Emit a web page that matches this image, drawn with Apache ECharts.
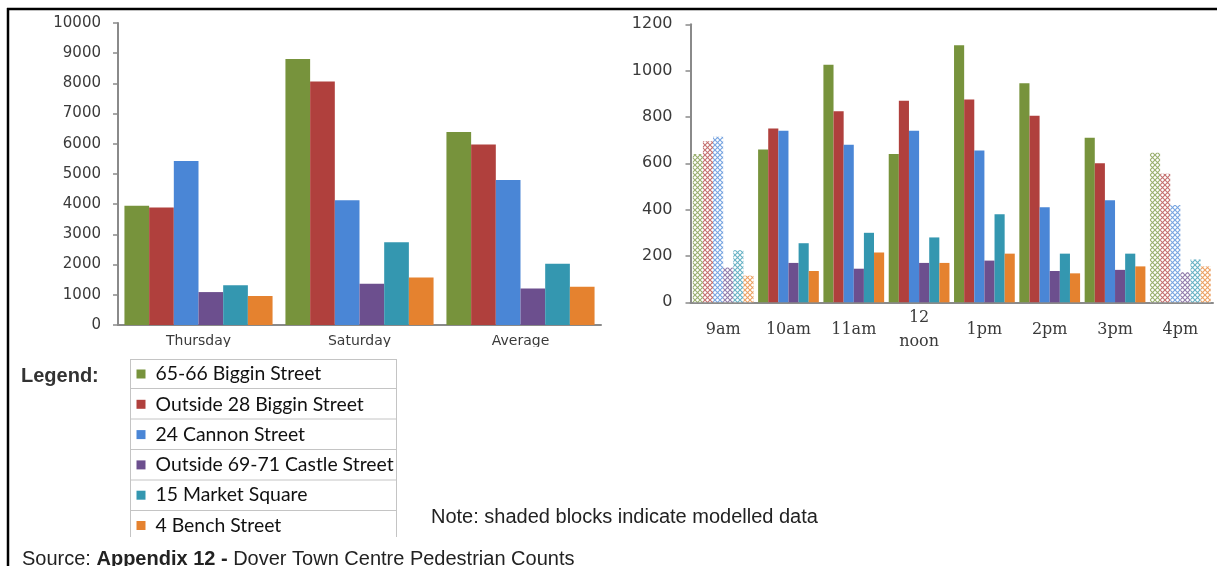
<!DOCTYPE html>
<html>
<head>
<meta charset="utf-8">
<script src="https://cdn.jsdelivr.net/npm/echarts@6/dist/echarts.min.js"></script>
<style>
  html, body { margin: 0; padding: 0; background: #fff; }
  #chart { width: 1217px; height: 566px; }
</style>
</head>
<body>
<div id="chart"></div>
<script>
// Dover town centre pedestrian counts by site

const locations = [
  '65-66 Biggin Street',
  'Outside 28 Biggin Street',
  '24 Cannon Street',
  'Outside 69-71 Castle Street',
  '15 Market Square',
  '4 Bench Street'
];
const siteColors = ['#77933C', '#B0403D', '#4A86D6', '#6C4F8E', '#3497B0', '#E5822F'];

// Daily totals
const dayCategories = ['Thursday', 'Saturday', 'Average'];
const dayBiggin6566 = [3950, 8810, 6390];
const dayBiggin28   = [3890, 8060, 5980];
const dayCannon     = [5430, 4130, 4800];
const dayCastle     = [1090, 1370, 1210];
const dayMarket     = [1320, 2740, 2030];
const dayBench      = [960, 1570, 1270];
const dayTicks = { min: 0, max: 10000, interval: 1000 };

// Hourly counts (9am and 4pm are modelled)
const hourCategories = ['9am', '10am', '11am', '12\nnoon', '1pm', '2pm', '3pm', '4pm'];
const hourBiggin6566 = [640, 660, 1025, 640, 1110, 945, 710, 645];
const hourBiggin28   = [695, 750, 825, 870, 875, 805, 600, 555];
const hourCannon     = [715, 740, 680, 740, 655, 410, 440, 420];
const hourCastle     = [150, 170, 145, 170, 180, 135, 140, 130];
const hourMarket     = [225, 255, 300, 280, 380, 210, 210, 185];
const hourBench      = [115, 135, 215, 170, 210, 125, 155, 155];
const hourModelled   = [true, false, false, false, false, false, false, true];
const hourTicks = { min: 0, max: 1200, interval: 200 };

const dayData  = [dayBiggin6566, dayBiggin28, dayCannon, dayCastle, dayMarket, dayBench];
const hourData = [hourBiggin6566, hourBiggin28, hourCannon, hourCastle, hourMarket, hourBench];

// Cross-hatch fill used for modelled blocks
function hatch(color) {
  const c = document.createElement('canvas');
  c.width = 5; c.height = 5;
  const g = c.getContext('2d');
  g.fillStyle = '#ffffff';
  g.fillRect(0, 0, 5, 5);
  g.strokeStyle = color;
  g.globalAlpha = 0.75;
  g.lineWidth = 1.1;
  g.beginPath();
  g.moveTo(0, 0); g.lineTo(5, 5);
  g.moveTo(5, 0); g.lineTo(0, 5);
  g.stroke();
  return { image: c, repeat: 'repeat' };
}

const axisGrey = '#8a8a8a';
const dividerGrey = '#c6c6c6';
const labelColor = '#3a3a3a';
const plainNumber = v => String(v);

const series = [];
locations.forEach((name, i) => {
  series.push({
    type: 'bar', name, xAxisIndex: 0, yAxisIndex: 0,
    data: dayData[i],
    itemStyle: { color: siteColors[i] },
    barGap: '0%', barCategoryGap: '8%'
  });
});
locations.forEach((name, i) => {
  series.push({
    type: 'bar', name, xAxisIndex: 1, yAxisIndex: 1,
    data: hourData[i].map((v, j) => hourModelled[j]
      ? { value: v, itemStyle: { color: hatch(siteColors[i]) } }
      : v),
    itemStyle: { color: siteColors[i] },
    barGap: '0%', barCategoryGap: '7%'
  });
});

// Table rules around the legend
const rowLines = [359.5, 388.5, 419, 449.5, 480, 510.5];
const tableGraphics = rowLines.map(y => ({
  type: 'line', shape: { x1: 130.5, y1: y, x2: 396.5, y2: y },
  style: { stroke: '#c4c4c4', lineWidth: 1 }, silent: true
}));
tableGraphics.push(
  { type: 'line', shape: { x1: 130.5, y1: 359, x2: 130.5, y2: 537 }, style: { stroke: '#c4c4c4', lineWidth: 1 }, silent: true },
  { type: 'line', shape: { x1: 396.5, y1: 359, x2: 396.5, y2: 537 }, style: { stroke: '#c4c4c4', lineWidth: 1 }, silent: true }
);

const chart = echarts.init(document.getElementById('chart'), null, { renderer: 'canvas' });
chart.setOption({
  animation: false,
  backgroundColor: '#ffffff',
  grid: [
    { left: 118, top: 23, width: 483, height: 302 },
    { left: 690.5, top: 24.3, width: 522.5, height: 278 }
  ],
  xAxis: [
    {
      type: 'category', gridIndex: 0, data: dayCategories,
      axisLine: { lineStyle: { color: axisGrey, width: 2 } },
      axisTick: { length: 22, lineStyle: { color: dividerGrey, width: 1 } },
      axisLabel: { fontFamily: 'DejaVu Sans', fontSize: 14, color: labelColor, margin: 9 }
    },
    {
      type: 'category', gridIndex: 1, data: hourCategories,
      axisLine: { lineStyle: { color: axisGrey, width: 2 } },
      axisTick: { length: 50, lineStyle: { color: dividerGrey, width: 1 } },
      axisLabel: {
        fontFamily: 'DejaVu Serif', fontSize: 16, lineHeight: 24, color: labelColor,
        margin: 28, verticalAlign: 'middle', interval: 0
      }
    }
  ],
  yAxis: [
    {
      type: 'value', gridIndex: 0, ...dayTicks,
      axisLine: { show: true, lineStyle: { color: axisGrey, width: 2 } },
      axisTick: { show: true, length: 5, lineStyle: { color: axisGrey, width: 1.5 } },
      splitLine: { show: false },
      axisLabel: { fontFamily: 'DejaVu Sans', fontSize: 15, color: labelColor, margin: 17, formatter: plainNumber }
    },
    {
      type: 'value', gridIndex: 1, ...hourTicks,
      axisLine: { show: true, lineStyle: { color: axisGrey, width: 2 } },
      axisTick: { show: true, length: 5, lineStyle: { color: axisGrey, width: 1.5 } },
      splitLine: { show: false },
      axisLabel: { fontFamily: 'DejaVu Sans', fontSize: 16, color: labelColor, margin: 18, formatter: plainNumber }
    }
  ],
  legend: {
    data: locations,
    orient: 'vertical', left: 136.5, top: 364, padding: 0,
    itemWidth: 9, itemHeight: 9, itemGap: 10.3, icon: 'rect',
    selectedMode: false,
    textStyle: { fontFamily: 'Lato', fontSize: 19.4, lineHeight: 20, color: '#111111', padding: [0, 0, 0, 5] }
  },
  series,
  graphic: [
    // day labels sit partly under the strip above the legend table
    { type: 'rect', shape: { x: 112, y: 347, width: 500, height: 11 }, style: { fill: '#ffffff' }, z: 100, silent: true },
    ...tableGraphics,
    { type: 'line', shape: { x1: 7, y1: 9, x2: 1217, y2: 9 }, style: { stroke: '#000', lineWidth: 2.5 }, z: 100, silent: true },
    { type: 'line', shape: { x1: 8, y1: 8, x2: 8, y2: 566 }, style: { stroke: '#000', lineWidth: 2.5 }, z: 100, silent: true },
    {
      type: 'text', left: 21, top: 366, silent: true,
      style: { text: 'Legend:', font: 'bold 20px "Liberation Sans", Arial, sans-serif', fill: '#333333' }
    },
    {
      type: 'text', left: 431, top: 507, silent: true,
      style: { text: 'Note: shaded blocks indicate modelled data', font: '20px "Liberation Sans", Arial, sans-serif', fill: '#222222' }
    },
    {
      type: 'text', left: 22, top: 549, silent: true,
      style: {
        text: 'Source: {b|Appendix 12 -} Dover Town Centre Pedestrian Counts',
        font: '20px "Liberation Sans", Arial, sans-serif', fill: '#222222',
        rich: { b: { font: 'bold 20px "Liberation Sans", Arial, sans-serif', fill: '#222222' } }
      }
    }
  ]
});
</script>
</body>
</html>
